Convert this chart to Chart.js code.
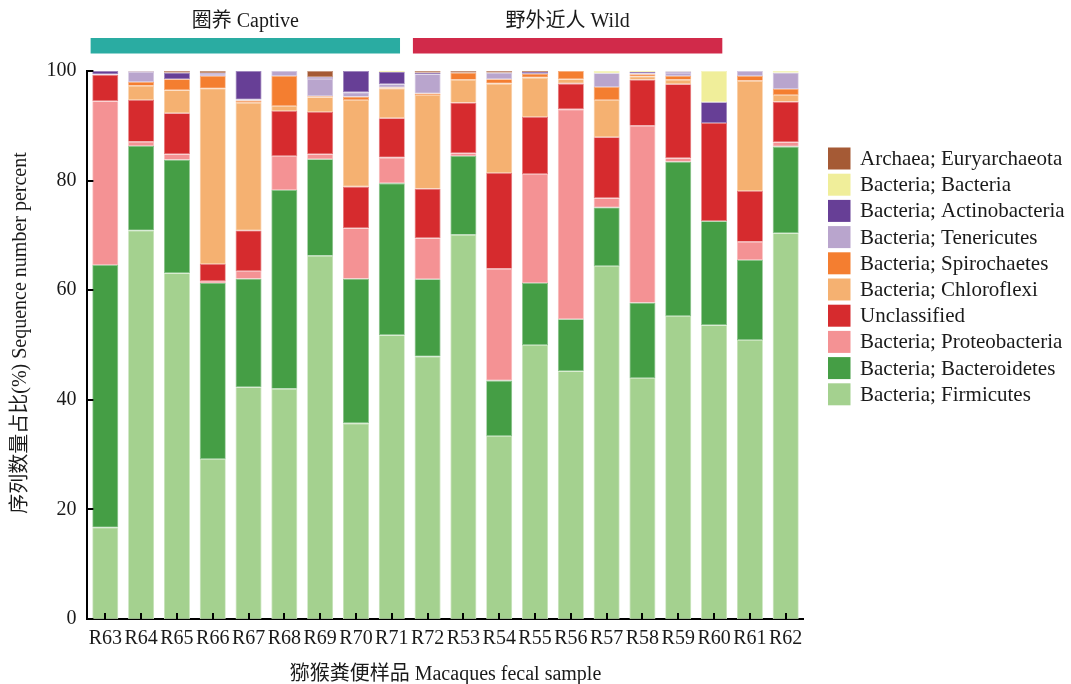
<!DOCTYPE html>
<html>
<head>
<meta charset="utf-8">
<script src="https://cdn.jsdelivr.net/npm/chart.js@4.4.1/dist/chart.umd.min.js"></script>
<style>
  html, body { margin: 0; padding: 0; background: #ffffff; }
  #wrap { width: 1071px; height: 684px; position: relative; }
</style>
</head>
<body>
<div id="wrap"><canvas id="chart"></canvas></div>
<script>
// Fecal samples (captive group first, then wild group)
const samples = ['R63','R64','R65','R66','R67','R68','R69','R70','R71','R72',
                 'R53','R54','R55','R56','R57','R58','R59','R60','R61','R62'];

// Relative abundance (%) of each taxon per sample, stacked bottom to top
const firmicutes     = [16.7, 70.9, 63.1, 29.2, 42.3, 42.0, 66.3, 35.7, 51.8, 47.9, 70.1, 33.4, 50.0, 45.2, 64.4, 44.0, 55.3, 53.6, 50.9, 70.4];
const bacteroidetes  = [47.9, 15.4, 20.7, 32.1, 19.8, 36.3, 17.6, 26.4, 27.7, 14.1, 14.4, 10.1, 11.3,  9.5, 10.7, 13.7, 28.15, 19.0, 14.6, 15.8];
const proteobacteria = [29.9,  0.8,  1.0,  0.4,  1.4,  6.2,  0.9,  9.2,  4.7,  7.5,  0.5, 20.4, 19.9, 38.3,  1.7, 32.3,  0.65,  0.0,  3.35, 0.8];
const unclassified   = [ 4.8,  7.6,  7.5,  3.1,  7.4,  8.2,  7.7,  7.6,  7.2,  9.0,  9.2, 17.5, 10.4,  4.7, 11.1,  8.4, 13.5, 17.9,  9.25, 7.4];
const chloroflexi    = [ 0.0,  2.6,  4.2, 32.0, 23.3,  0.9,  2.7, 15.8,  5.4, 17.1,  4.2, 16.3,  7.2,  0.8,  6.8,  0.6,  0.8,  0.0, 20.1,  1.2];
const spirochaetes   = [ 0.0,  0.7,  2.0,  2.3,  0.4,  5.5,  0.2,  0.6,  0.2,  0.3,  1.3,  0.8,  0.7,  1.5,  2.4,  0.4,  0.7,  0.0,  0.9,  1.1];
const tenericutes    = [ 0.1,  1.8,  0.0,  0.4,  0.2,  0.9,  3.2,  0.8,  0.6,  3.5,  0.0,  1.2,  0.0,  0.0,  2.5,  0.2,  0.6,  0.0,  0.9,  3.0];
const actinobacteria = [ 0.6,  0.1,  1.2,  0.15, 5.2,  0.0,  0.25, 3.9,  2.2,  0.3,  0.0,  0.0,  0.3,  0.0,  0.0,  0.2,  0.2,  3.8,  0.0,  0.0];
const bacteriaOther  = [ 0.0,  0.0,  0.0,  0.0,  0.0,  0.0,  0.0,  0.0,  0.2,  0.0,  0.0,  0.0,  0.0,  0.0,  0.4,  0.2,  0.1,  5.7,  0.0,  0.3];
const euryarchaeota  = [ 0.0,  0.1,  0.3,  0.35, 0.0,  0.0,  1.15, 0.0,  0.0,  0.3,  0.3,  0.3,  0.2,  0.0,  0.0,  0.0,  0.0,  0.0,  0.0,  0.0];

const seriesNames = ['Bacteria; Firmicutes', 'Bacteria; Bacteroidetes', 'Bacteria; Proteobacteria',
                     'Unclassified', 'Bacteria; Chloroflexi', 'Bacteria; Spirochaetes',
                     'Bacteria; Tenericutes', 'Bacteria; Actinobacteria', 'Bacteria; Bacteria',
                     'Archaea; Euryarchaeota'];
const seriesValues = [firmicutes, bacteroidetes, proteobacteria, unclassified, chloroflexi,
                      spirochaetes, tenericutes, actinobacteria, bacteriaOther, euryarchaeota];
const seriesColors = ['#a4d18f', '#459e45', '#f49294', '#d62b2e', '#f5b171',
                      '#f47e30', '#b9a5cd', '#673f96', '#f0ee9a', '#a55a35'];

// Sample groups shown as coloured banners above the bars
const groupNames  = ['圈养 Captive', '野外近人 Wild'];
const groupFirst  = ['R63', 'R72'];
const groupLast   = ['R71', 'R60'];
const groupColors = ['#2aaca2', '#d12a4a'];

const yTicks = [0, 20, 40, 60, 80, 100];
const xTitle = '猕猴粪便样品 Macaques fecal sample';
const yTitle = '序列数量占比(%) Sequence number percent';

const FONT = '"Liberation Serif", "Times New Roman", "Noto Sans CJK SC", serif';

function lighten(hex, t) {
  const n = parseInt(hex.slice(1), 16);
  const r = (n >> 16) & 255, g = (n >> 8) & 255, b = n & 255;
  const m = v => Math.round(v + (255 - v) * t);
  return 'rgb(' + m(r) + ',' + m(g) + ',' + m(b) + ')';
}

const datasets = seriesNames.map((name, i) => ({
  label: name,
  data: seriesValues[i],
  backgroundColor: seriesColors[i],
  borderColor: lighten(seriesColors[i], 0.35),
  borderWidth: 0.8,
  borderSkipped: false,
  barPercentage: 0.726,
  categoryPercentage: 1.0
}));

// Inward tick marks on both axes, drawn over the bars
const inwardTicks = {
  id: 'inwardTicks',
  afterDatasetsDraw(chart) {
    const { ctx, chartArea, scales: { x, y } } = chart;
    ctx.save();
    ctx.strokeStyle = '#000';
    ctx.lineWidth = 2;
    ctx.beginPath();
    yTicks.forEach(v => {
      const py = Math.round(y.getPixelForValue(v));
      ctx.moveTo(chartArea.left, py);
      ctx.lineTo(chartArea.left + 6, py);
    });
    samples.forEach((s, i) => {
      const px = Math.round(x.getPixelForValue(i));
      ctx.moveTo(px, chartArea.bottom);
      ctx.lineTo(px, chartArea.bottom - 6);
    });
    ctx.stroke();
    ctx.restore();
  }
};

// Group banners with labels above the plot
const groupBanners = {
  id: 'groupBanners',
  afterDraw(chart) {
    const { ctx, scales: { x } } = chart;
    const cw = x.getPixelForValue(1) - x.getPixelForValue(0);
    ctx.save();
    groupNames.forEach((name, g) => {
      const i0 = samples.indexOf(groupFirst[g]);
      const i1 = samples.indexOf(groupLast[g]);
      const x0 = x.getPixelForValue(i0) - 0.41 * cw;
      const x1 = x.getPixelForValue(i1) + 0.23 * cw;
      ctx.fillStyle = groupColors[g];
      ctx.fillRect(x0, 38, x1 - x0, 15.5);
      ctx.fillStyle = '#1a1a1a';
      ctx.font = '20px ' + FONT;
      ctx.textAlign = 'center';
      ctx.textBaseline = 'middle';
      ctx.fillText(name, (x0 + x1) / 2, 21.5);
    });
    ctx.restore();
  }
};

// Legend on the right, top entry = top of the stack
const sideLegend = {
  id: 'sideLegend',
  afterDraw(chart) {
    const { ctx } = chart;
    ctx.save();
    ctx.font = '21px ' + FONT;
    ctx.textAlign = 'left';
    ctx.textBaseline = 'middle';
    const n = chart.data.datasets.length;
    for (let k = 0; k < n; k++) {
      const ds = chart.data.datasets[n - 1 - k];
      const top = 147.5 + k * 26.2;
      ctx.fillStyle = ds.backgroundColor;
      ctx.fillRect(828, top, 22.5, 22);
      ctx.fillStyle = '#1a1a1a';
      ctx.fillText(ds.label, 860, top + 12);
    }
    ctx.restore();
  }
};

// Rotated y-axis title
const yAxisTitle = {
  id: 'yAxisTitle',
  afterDraw(chart) {
    const { ctx } = chart;
    ctx.save();
    ctx.translate(21, 333);
    ctx.rotate(-Math.PI / 2);
    ctx.font = '20px ' + FONT;
    ctx.fillStyle = '#1a1a1a';
    ctx.textAlign = 'center';
    ctx.textBaseline = 'middle';
    ctx.fillText(yTitle, 0, 0);
    ctx.restore();
  }
};

new Chart(document.getElementById('chart'), {
  type: 'bar',
  data: { labels: samples, datasets },
  options: {
    responsive: true,
    maintainAspectRatio: false,
    devicePixelRatio: 1,
    animation: false,
    layout: { padding: { left: 0, right: 267.4, top: 71, bottom: 0 } },
    plugins: {
      legend: { display: false },
      tooltip: { enabled: false }
    },
    scales: {
      x: {
        stacked: true,
        grid: { display: false, drawTicks: false },
        border: { display: true, color: '#000', width: 2 },
        ticks: { color: '#1a1a1a', font: { family: FONT, size: 20 }, padding: 8, autoSkip: false, maxRotation: 0 },
        title: {
          display: true, text: xTitle, color: '#1a1a1a',
          font: { family: FONT, size: 20, lineHeight: 1 },
          padding: { top: 0, bottom: -1 }
        },
        afterFit(scale) { scale.height = 65; }
      },
      y: {
        stacked: true,
        min: 0, max: 100,
        afterBuildTicks(scale) { scale.ticks = yTicks.map(v => ({ value: v })); },
        grid: { display: false, drawTicks: false },
        border: { display: true, color: '#000', width: 2 },
        ticks: { color: '#1a1a1a', font: { family: FONT, size: 20 }, padding: 11 },
        afterFit(scale) { scale.width = 87.4; }
      }
    }
  },
  plugins: [inwardTicks, groupBanners, sideLegend, yAxisTitle]
});
</script>
</body>
</html>
